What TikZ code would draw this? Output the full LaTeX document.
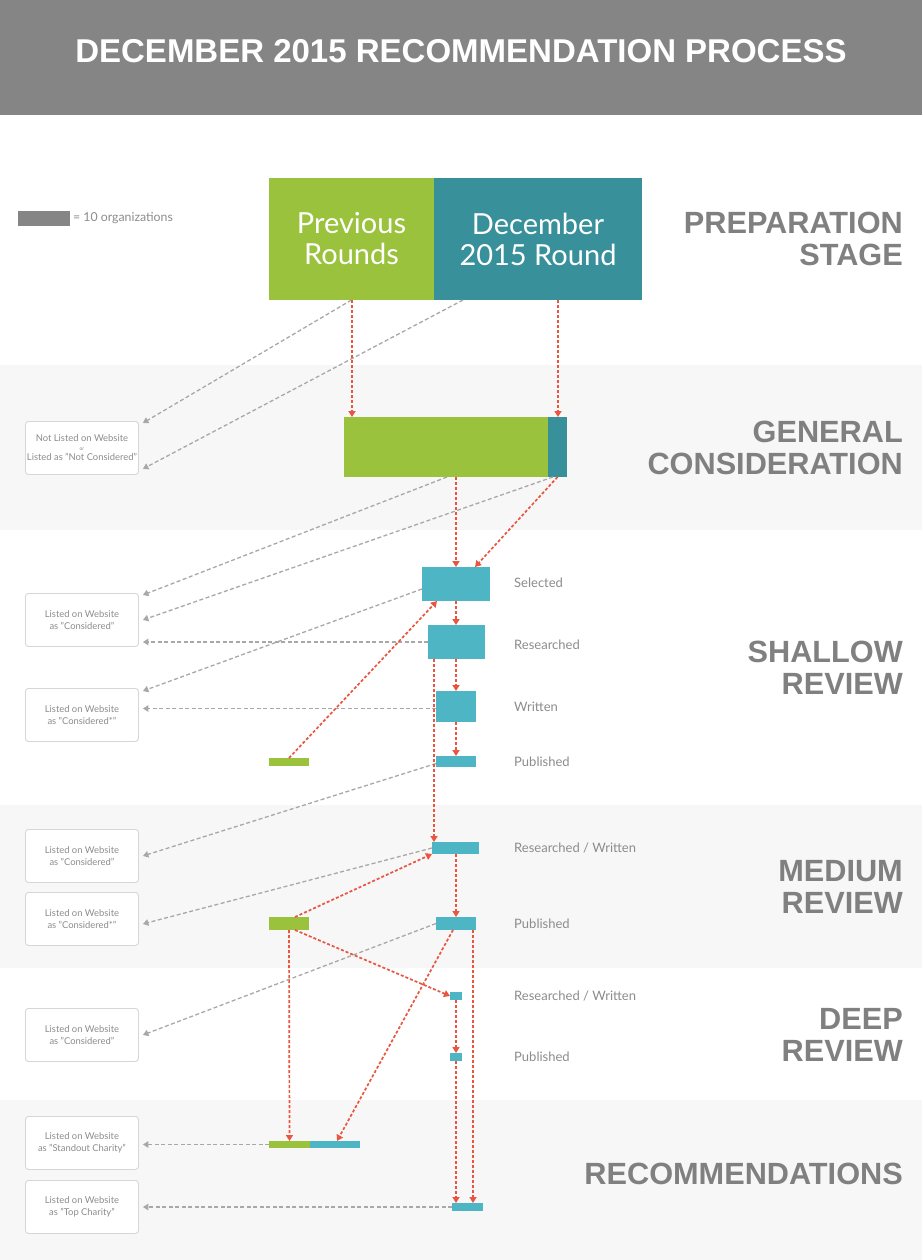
\documentclass[tikz,border=0pt]{standalone}
\usepackage{fontspec}
\setmainfont{Lato}
\newfontfamily\headfont{Liberation Sans}
\usetikzlibrary{arrows.meta,positioning,calc}
\definecolor{ProcHead}{HTML}{858585}
\definecolor{ProcBand}{HTML}{F7F7F7}
\definecolor{ProcGreen}{HTML}{9AC23C}
\definecolor{ProcDarkTeal}{HTML}{38909A}
\definecolor{ProcTeal}{HTML}{4DB5C3}
\definecolor{ProcRed}{HTML}{E9553F}
\definecolor{ProcArrow}{HTML}{A8A8A8}
\definecolor{ProcLine}{HTML}{D6D6D6}
\definecolor{ProcText}{HTML}{8C8C8C}
\definecolor{ProcStage}{HTML}{808080}
\tikzset{
  bar/.style 2 args={anchor=north west, inner sep=0pt, outer sep=0pt,
                     minimum width=#1, minimum height=#2},
  prevbar/.style={fill=ProcGreen},
  newbar/.style={fill=ProcTeal},
  decbar/.style={fill=ProcDarkTeal},
  result/.style={anchor=north west, rounded corners=3pt, draw=ProcLine, line width=0.9pt,
                 fill=white, minimum width=113pt, minimum height=53pt, inner sep=0pt,
                 align=center, text=ProcText, font=\fontsize{9.4}{11.5}\selectfont},
  stagename/.style={anchor=east, inner sep=0pt, align=right, text=ProcStage,
                    font=\headfont\bfseries\fontsize{30.7}{31.5}\selectfont},
  steplabel/.style={anchor=west, inner sep=0pt, text=ProcText, font=\fontsize{13}{15}\selectfont},
  dropflow/.style={-{Triangle[width=6.5pt,length=5.5pt]}, draw=ProcArrow, line width=1.3pt,
                   dash pattern=on 4pt off 2.5pt},
  passflow/.style={-{Triangle[width=7pt,length=6pt]}, draw=ProcRed, line width=1.7pt,
                   dash pattern=on 3pt off 2pt},
}
\begin{document}
\begin{tikzpicture}[x=1pt, y=-1pt]
  \useasboundingbox (0,0) rectangle (922,1260);
  \fill[white] (0,0) rectangle (922,1260);
  \fill[ProcBand] (0,365) rectangle (922,530);
  \fill[ProcBand] (0,805) rectangle (922,968);
  \fill[ProcBand] (0,1100) rectangle (922,1260);
  \fill[ProcHead] (0,0) rectangle (922,115);
  \node[text=white, font=\headfont\bfseries\fontsize{33}{36}\selectfont] (title) at (461,51)
    {DECEMBER 2015 RECOMMENDATION PROCESS};

  \node[bar={52pt}{15pt}, fill=ProcHead] (legendbar) at (18,211) {};
  \node[right=3pt of legendbar, inner sep=0pt, text=ProcText, font=\fontsize{12.3}{14}\selectfont]
    (legendtext) {= 10 organizations};

  \node[bar={165pt}{122pt}, prevbar, align=center, text=white, font=\fontsize{29}{31}\selectfont]
    (prev) at (269,178) {Previous\\Rounds};
  \node[bar={208pt}{122pt}, decbar, align=center, text=white, font=\fontsize{29}{31}\selectfont]
    (dec) at (434,178) {December\\2015 Round};

  \node[bar={204pt}{60pt}, prevbar] (genprev) at (344,417) {};
  \node[bar={19pt}{60pt}, decbar] (gendec) at (548,417) {};

  \node[bar={68pt}{34pt}, newbar] (sel) at (422,567) {};
  \node[bar={57pt}{34pt}, newbar] (res) at (428,625) {};
  \node[bar={40pt}{31pt}, newbar] (wri) at (436,691) {};
  \node[bar={40pt}{11pt}, newbar] (pub) at (436,756) {};
  \node[bar={40pt}{8pt}, prevbar] (shprev) at (269,758) {};

  \node[bar={47pt}{12pt}, newbar] (medrw) at (432,842) {};
  \node[bar={40pt}{13pt}, newbar] (medpub) at (436,917) {};
  \node[bar={40pt}{13pt}, prevbar] (medprev) at (269,917) {};

  \node[bar={12pt}{8pt}, newbar] (deeprw) at (450,992) {};
  \node[bar={12pt}{8pt}, newbar] (deeppub) at (450,1053) {};

  \node[bar={41pt}{7pt}, prevbar] (stdprev) at (269,1141) {};
  \node[bar={50pt}{7pt}, newbar] (stdnew) at (310,1141) {};
  \node[bar={31pt}{8pt}, newbar] (topbar) at (452,1203) {};

  \node[result] (notlisted) at (25,421)
    {Not Listed on Website\\[-3pt]{\fontsize{5}{6}\selectfont or}\\[-1pt]Listed as "Not Considered"};
  \node[result] (shcons) at (25,593) {Listed on Website\\as "Considered"};
  \node[result] (shstar) at (25,688) {Listed on Website\\as "Considered*"};
  \node[result] (medcons) at (25,829) {Listed on Website\\as "Considered"};
  \node[result] (medstar) at (25,892) {Listed on Website\\as "Considered*"};
  \node[result] (deepcons) at (25,1008) {Listed on Website\\as "Considered"};
  \node[result] (standout) at (25,1116) {Listed on Website\\as "Standout Charity"};
  \node[result] (topchar) at (25,1180) {Listed on Website\\as "Top Charity"};

  \node[stagename] (prepstage) at (903,239) {PREPARATION\\STAGE};
  \node[stagename] (genstage) at (903,448) {GENERAL\\CONSIDERATION};
  \node[stagename] (shstage) at (903,668) {SHALLOW\\REVIEW};
  \node[stagename] (medstage) at (903,887) {MEDIUM\\REVIEW};
  \node[stagename] (deepstage) at (903,1035) {DEEP\\REVIEW};
  \node[stagename] (recstage) at (903,1174) {RECOMMENDATIONS};

  \node[steplabel] (sellabel) at (514,583) {Selected};
  \node[steplabel] (reslabel) at (514,645) {Researched};
  \node[steplabel] (wrilabel) at (514,707) {Written};
  \node[steplabel] (publabel) at (514,762) {Published};
  \node[steplabel] (medrwlabel) at (514,848) {Researched / Written};
  \node[steplabel] (medpublabel) at (514,924) {Published};
  \node[steplabel] (deeprwlabel) at (514,996) {Researched / Written};
  \node[steplabel] (deeppublabel) at (514,1057) {Published};

  \draw[dropflow] (prev.south) -- ([xshift=4pt,yshift=-2pt]notlisted.north east);
  \draw[dropflow] ([xshift=29pt]dec.south west) -- ([xshift=4pt,yshift=6pt]notlisted.south east);
  \draw[dropflow] ([xshift=103pt]genprev.south west) -- ([xshift=4pt,yshift=-2pt]shcons.north east);
  \draw[dropflow] ([xshift=5pt]gendec.south west) -- ([xshift=4pt]shcons.east);
  \draw[dropflow] (res.west) -- ($(res.west -| shcons.east)+(4,0)$);
  \draw[dropflow] ([yshift=-5pt]sel.west) -- ([xshift=4pt,yshift=-3pt]shstar.north east);
  \draw[dropflow] ([yshift=-2pt]wri.west) -- ($([yshift=-2pt]wri.west -| shstar.east)+(4,0)$);
  \draw[dropflow] ([yshift=-2pt]pub.west) -- ([xshift=4pt]medcons.east);
  \draw[dropflow] (medrw.west) -- ([xshift=4pt,yshift=-5pt]medstar.east);
  \draw[dropflow] (medpub.west) -- ([xshift=4pt]deepcons.east);
  \draw[dropflow] (stdprev.west) -- ($(stdprev.west -| standout.east)+(4,0)$);
  \draw[dropflow] (topbar.west) -- ($(topbar.west -| topchar.east)+(4,0)$);

  \draw[passflow] ([xshift=0.5pt]prev.south) -- ([xshift=0.5pt]prev.south |- genprev.north);
  \draw[passflow] ([xshift=0.5pt]dec.south -| gendec.north) -- ([xshift=0.5pt]gendec.north);
  \draw[passflow] (sel.north |- genprev.south) -- (sel.north);
  \draw[passflow] (gendec.south) -- ([xshift=-15pt]sel.north east);
  \draw[passflow] (sel.south) -- (res.north -| sel.south);
  \draw[passflow] (res.south -| sel.south) -- (wri.north -| sel.south);
  \draw[passflow] (wri.south -| sel.south) -- (pub.north -| sel.south);
  \draw[passflow] (shprev.north) -- ([xshift=15pt]sel.south west);
  \draw[passflow] ([xshift=6pt]res.south west) -- ([xshift=6pt]res.south west |- medrw.north);
  \draw[passflow] ([xshift=0.5pt]medrw.south) -- ([xshift=0.5pt]medrw.south |- medpub.north);
  \draw[passflow] ([xshift=6pt]medprev.north) -- (medrw.south west);
  \draw[passflow] (medprev.south) -- (stdprev.north);
  \draw[passflow] ([xshift=6pt]medprev.south) -- (deeprw.west);
  \draw[passflow] ([xshift=-3pt]medpub.south) -- ([xshift=2pt]stdnew.north);
  \draw[passflow] ([xshift=-3pt]medpub.south east) -- ([xshift=-3pt]medpub.south east |- topbar.north);
  \draw[passflow] (deeprw.south) -- (deeppub.north);
  \draw[passflow] (deeppub.south) -- (deeppub.south |- topbar.north);
\end{tikzpicture}
\end{document}
